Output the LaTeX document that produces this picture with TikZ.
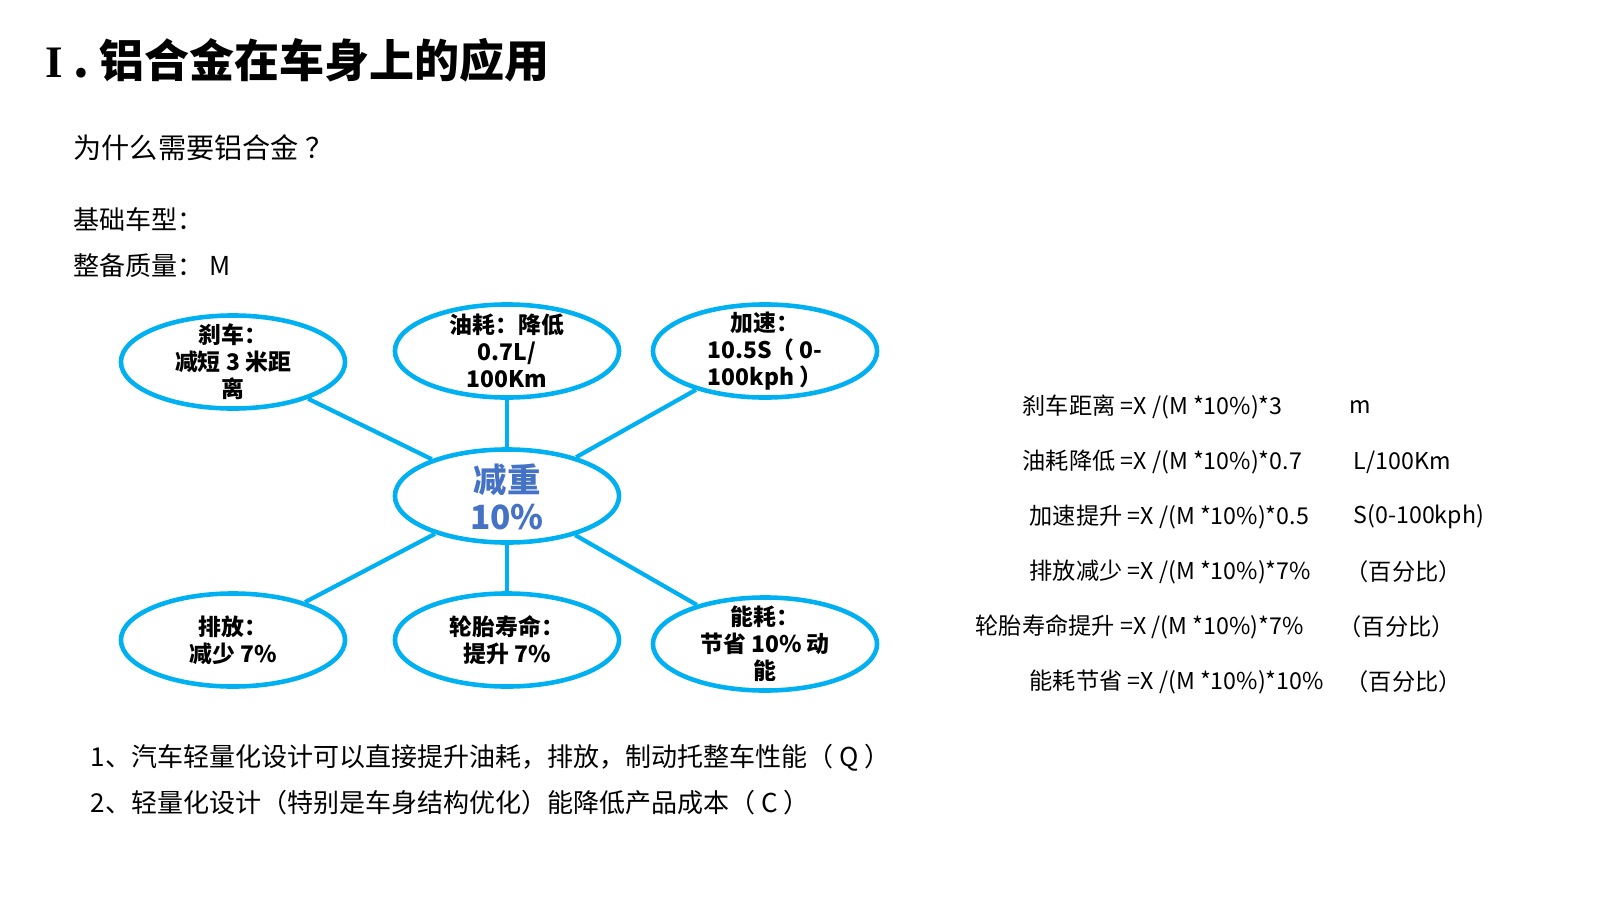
\documentclass[tikz,border=0pt]{standalone}
\usepackage{fontspec}
\setmainfont{Noto Sans CJK SC}
\newfontfamily\titleroman{Liberation Serif}
\usepackage{tikz}
\usetikzlibrary{shapes.geometric}
\definecolor{linkcyan}{HTML}{00B0F0}
\definecolor{hubblue}{HTML}{4472C4}
\tikzset{
  bubble/.style={draw=linkcyan,line width=1.3pt,ellipse,minimum width=2.24cm,minimum height=0.93cm,inner sep=0pt},
  bubbletext/.style={align=center,inner sep=0pt,font=\fontsize{6.5}{7.7}\selectfont\bfseries},
  link/.style={linkcyan,line width=1.2pt},
  plain/.style={anchor=west,inner sep=0pt}
}
\begin{document}
\begin{tikzpicture}[x=0.01cm,y=-0.01cm]
    \useasboundingbox (0,0) rectangle (1600,900);
    % headings
    \node[plain,font=\fontsize{12.8}{15}\selectfont\bfseries] (title) at (45,60) {{\titleroman I} . 铝合金在车身上的应用};
    \node[plain,font=\fontsize{8}{10}\selectfont] (why) at (73,148) {为什么需要铝合金 ？};
    \node[plain,font=\fontsize{7.4}{9}\selectfont] (base) at (73,220) {基础车型：};
    \node[plain,font=\fontsize{7.4}{9}\selectfont] (mass) at (73,266) {整备质量： M};
    % bubbles
    \node[bubble] (hub) at (507,496) {};
    \node[align=center,inner sep=0pt,text=hubblue,font=\fontsize{9.5}{10.5}\selectfont\bfseries] (hub-t) at (507,497) {减重\\10\%};
    \foreach \Name/\X/\Y/\Label in {brake/233/362/{刹车：\\减短 3 米距\\离}, fuel/507/351/{油耗：降低\\0.7L/\\100Km},
      speed/765/351/{加速：\\10.5S（ 0-\\100kph ）}, exhaust/233/640/{排放：\\减少 7\%}, tyre/507/640/{轮胎寿命：\\提升 7\%},
      energy/765/644/{能耗：\\节省 10\% 动\\能}}
    {
      \node[bubble] (\Name) at (\X,\Y) {};
      \node[bubbletext] (\Name-t) at (\X,\Y) {\Label};
    }
    % links
    \foreach \Name in {brake,fuel,speed,exhaust,tyre,energy}
      \draw[link] (hub) -- (\Name);
    % formulas
    \foreach \Row/\Y/\Fx/\Formula/\Ux/\Unit in {1/407/1022/{刹车距离 =X /(M *10\%)*3}/1349/{m},
      2/462/1022/{油耗降低 =X /(M *10\%)*0.7}/1353/{L/100Km},
      3/517/1029/{加速提升 =X /(M *10\%)*0.5}/1353/{S(0-100kph)},
      4/572/1029/{排放减少 =X /(M *10\%)*7\%}/1345/{（百分比）},
      5/627/975/{轮胎寿命提升 =X /(M *10\%)*7\%}/1338/{（百分比）},
      6/682/1029/{能耗节省 =X /(M *10\%)*10\%}/1345/{（百分比）}}
    {
      \node[plain,font=\fontsize{6.6}{8}\selectfont] (f\Row) at (\Fx,\Y) {\Formula};
      \node[plain,font=\fontsize{6.6}{8}\selectfont] (u\Row) at (\Ux,\Y) {\Unit};
    }
    % notes
    \node[plain,font=\fontsize{7.4}{9}\selectfont] (note1) at (90,758) {1、汽车轻量化设计可以直接提升油耗，排放，制动托整车性能（ Q ）};
    \node[plain,font=\fontsize{7.4}{9}\selectfont] (note2) at (90,803) {2、轻量化设计（特别是车身结构优化）能降低产品成本（ C ）};
\end{tikzpicture}
\end{document}
